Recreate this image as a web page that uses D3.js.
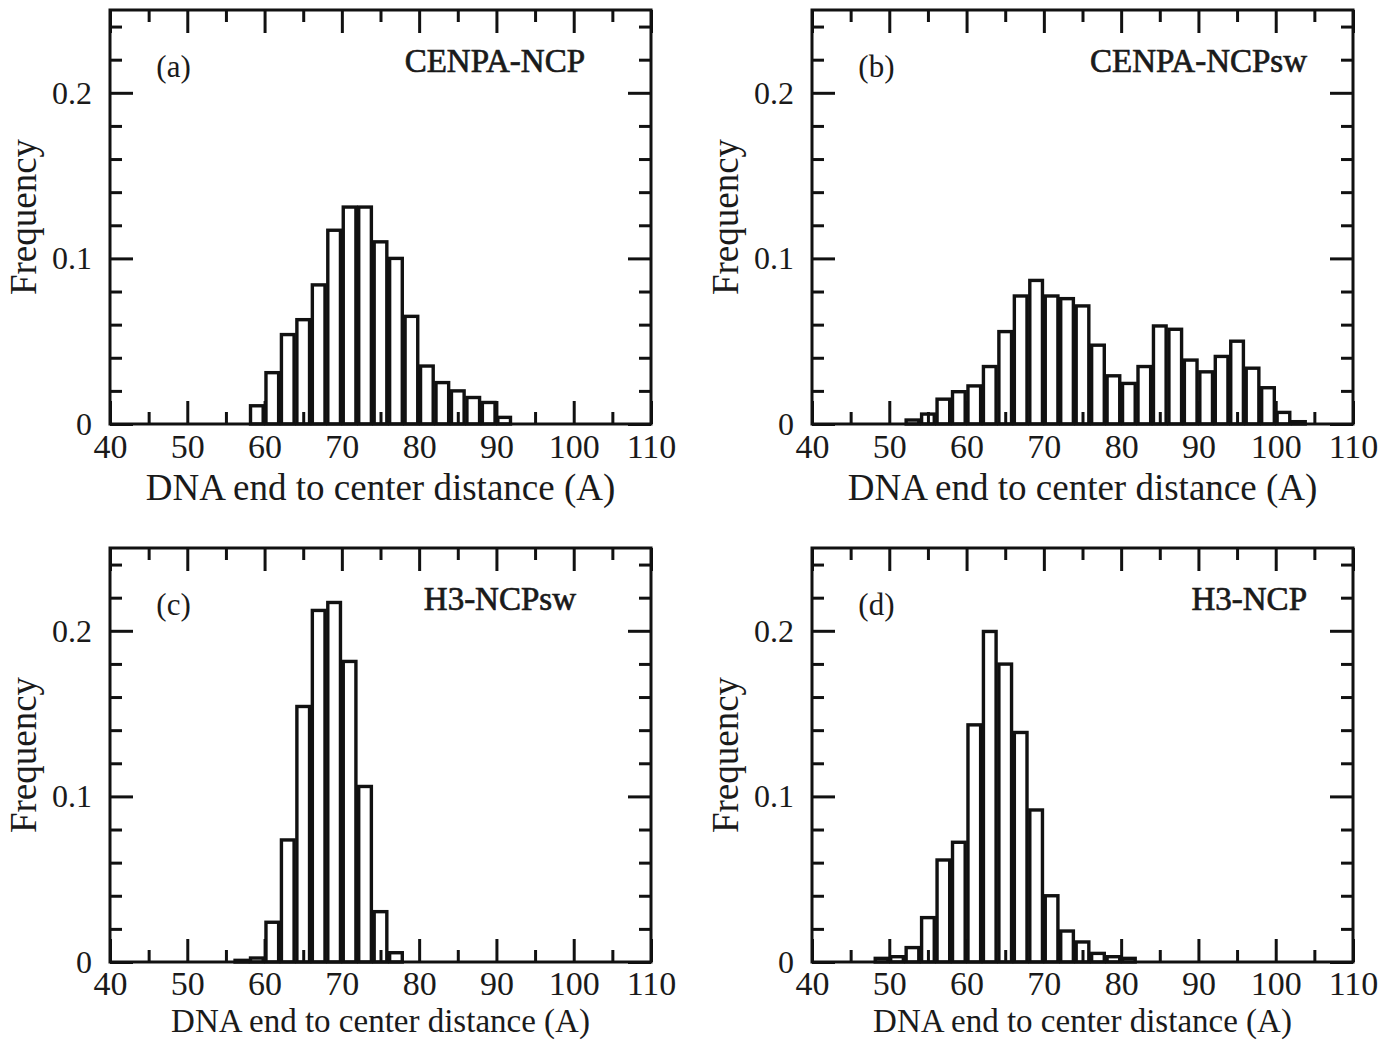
<!DOCTYPE html>
<html>
<head>
<meta charset="utf-8">
<script src="https://cdn.jsdelivr.net/npm/d3@7"></script>
<style>
  body { margin: 0; background: #fff; }
  svg { display: block; }
  text { font-family: "Liberation Serif", "Times New Roman", serif; fill: #1a1a1a; }
</style>
</head>
<body>
<div id="chart"></div>
<script>
// histogram data, bin width 2 A
const binWidth = 2

const binsA = [58, 60, 62, 64, 66, 68, 70, 72, 74, 76, 78, 80, 82, 84, 86, 88, 90]
const freqA = [0.011, 0.031, 0.054, 0.063, 0.084, 0.117, 0.131, 0.131, 0.110, 0.100, 0.065, 0.035, 0.025, 0.020, 0.016, 0.013, 0.004]

const binsB = [52, 54, 56, 58, 60, 62, 64, 66, 68, 70, 72, 74, 76, 78, 80, 82, 84, 86, 88, 90, 92, 94, 96, 98, 100, 102]
const freqB = [0.0024, 0.006, 0.015, 0.0195, 0.023, 0.0347, 0.0558, 0.0773, 0.0867, 0.0773, 0.0757, 0.0713, 0.0476, 0.0291,
  0.0245, 0.0347, 0.0592, 0.0572, 0.0386, 0.0315, 0.0408, 0.050, 0.0337, 0.0219, 0.007, 0.0014]

const binsC = [56, 58, 60, 62, 64, 66, 68, 70, 72, 74, 76]
const freqC = [0.001, 0.0024, 0.024, 0.0737, 0.1543, 0.2123, 0.2171, 0.1815, 0.106, 0.0304, 0.0056]

const binsD = [48, 50, 52, 54, 56, 58, 60, 62, 64, 66, 68, 70, 72, 74, 76, 78, 80]
const freqD = [0.0022, 0.0032, 0.0087, 0.0268, 0.0616, 0.0723, 0.1432, 0.1996, 0.1799, 0.1386, 0.0918, 0.040, 0.0187, 0.0121, 0.0052, 0.0032, 0.0022]

const xMajor = [40, 50, 60, 70, 80, 90, 100, 110]
const xMinor = [45, 55, 65, 75, 85, 95, 105]
const yMajor = [0, 0.1, 0.2]
const yMinor = [0.02, 0.04, 0.06, 0.08, 0.12, 0.14, 0.16, 0.18, 0.22, 0.24]

const xLabel = "DNA end to center distance (A)"
const yLabel = "Frequency"

// bottom row sits against the page edge, so its x label is a touch smaller
const topRow = { labelDy: 76, labelSize: 37, tickPad: 10 }
const botRow = { labelDy: 70, labelSize: 33, tickPad: 9 }

const panels = [
  { tag: "(a)", name: "CENPA-NCP", bins: binsA, freq: freqA, left: 110, top: 10, nameEnd: 585, row: topRow },
  { tag: "(b)", name: "CENPA-NCPsw", bins: binsB, freq: freqB, left: 812, top: 10, nameEnd: 1307, row: topRow },
  { tag: "(c)", name: "H3-NCPsw", bins: binsC, freq: freqC, left: 110, top: 548, nameEnd: 576, row: botRow },
  { tag: "(d)", name: "H3-NCP", bins: binsD, freq: freqD, left: 812, top: 548, nameEnd: 1307, row: botRow }
]

const W = 541, H = 414
const svg = d3.select("#chart").append("svg")
  .attr("width", 1390)
  .attr("height", 1040)

panels.forEach(p => {
  const g = svg.append("g").attr("transform", `translate(${p.left},${p.top})`)
  const x = d3.scaleLinear().domain([40, 110]).range([0, W])
  const y = d3.scaleLinear().domain([0, 0.25]).range([H, 0])

  // bars
  g.append("g")
    .selectAll("rect")
    .data(p.bins.map((b, i) => ({ x0: b, x1: b + binWidth, f: p.freq[i] })))
    .enter()
    .append("rect")
    .attr("x", d => x(d.x0) + 1.4)
    .attr("width", d => x(d.x1) - x(d.x0) - 2.8)
    .attr("y", d => y(d.f))
    .attr("height", d => H - y(d.f))
    .attr("fill", "#fff")
    .attr("stroke", "#111")
    .attr("stroke-width", 3.4)

  // ticks, all pointing inward
  const tickAxis = (axis, vals, len, fmt) => axis
    .tickValues(vals).tickSize(-len).tickSizeOuter(0)
    .tickFormat(fmt || "")

  const addAxis = (axis, transform, cls) => {
    const a = g.append("g").attr("class", cls).attr("transform", transform).call(axis)
    a.select(".domain").remove()
    a.selectAll("line").attr("stroke", "#111").attr("stroke-width", 3)
    return a
  }

  addAxis(tickAxis(d3.axisBottom(x), xMinor, 12), `translate(0,${H})`, "xminor")
  const xb = addAxis(tickAxis(d3.axisBottom(x), xMajor, 23, d3.format("d")).tickPadding(p.row.tickPad),
    `translate(0,${H})`, "xmajor")
  xb.selectAll("text").style("font-size", "34px").attr("fill", "#1a1a1a")
  addAxis(tickAxis(d3.axisTop(x), xMinor, 12), "translate(0,0)", "xtopminor")
  addAxis(tickAxis(d3.axisTop(x), xMajor, 23), "translate(0,0)", "xtop")

  addAxis(tickAxis(d3.axisLeft(y), yMinor, 12), "translate(0,0)", "yminor")
  const yl = addAxis(tickAxis(d3.axisLeft(y), yMajor, 23, d => d === 0 ? "0" : d3.format(".1f")(d)).tickPadding(18),
    "translate(0,0)", "ymajor")
  yl.selectAll("text").style("font-size", "32px").attr("fill", "#1a1a1a")
  addAxis(tickAxis(d3.axisRight(y), yMinor, 12), `translate(${W},0)`, "yrminor")
  addAxis(tickAxis(d3.axisRight(y), yMajor, 23), `translate(${W},0)`, "yright")

  // frame
  g.append("rect")
    .attr("width", W)
    .attr("height", H)
    .attr("fill", "none")
    .attr("stroke", "#111")
    .attr("stroke-width", 3)

  // labels
  g.append("text")
    .attr("x", W / 2)
    .attr("y", H + p.row.labelDy)
    .attr("text-anchor", "middle")
    .style("font-size", p.row.labelSize + "px")
    .text(xLabel)

  g.append("text")
    .attr("transform", `translate(-74,${H / 2}) rotate(-90)`)
    .attr("text-anchor", "middle")
    .style("font-size", "37px")
    .text(yLabel)

  g.append("text")
    .attr("x", x(46))
    .attr("y", 67)
    .style("font-size", "31px")
    .text(p.tag)

  g.append("text")
    .attr("x", p.nameEnd - p.left)
    .attr("y", 62)
    .attr("text-anchor", "end")
    .style("font-size", "33px")
    .style("stroke", "#1a1a1a")
    .style("stroke-width", 0.7)
    .text(p.name)
})
</script>
</body>
</html>
